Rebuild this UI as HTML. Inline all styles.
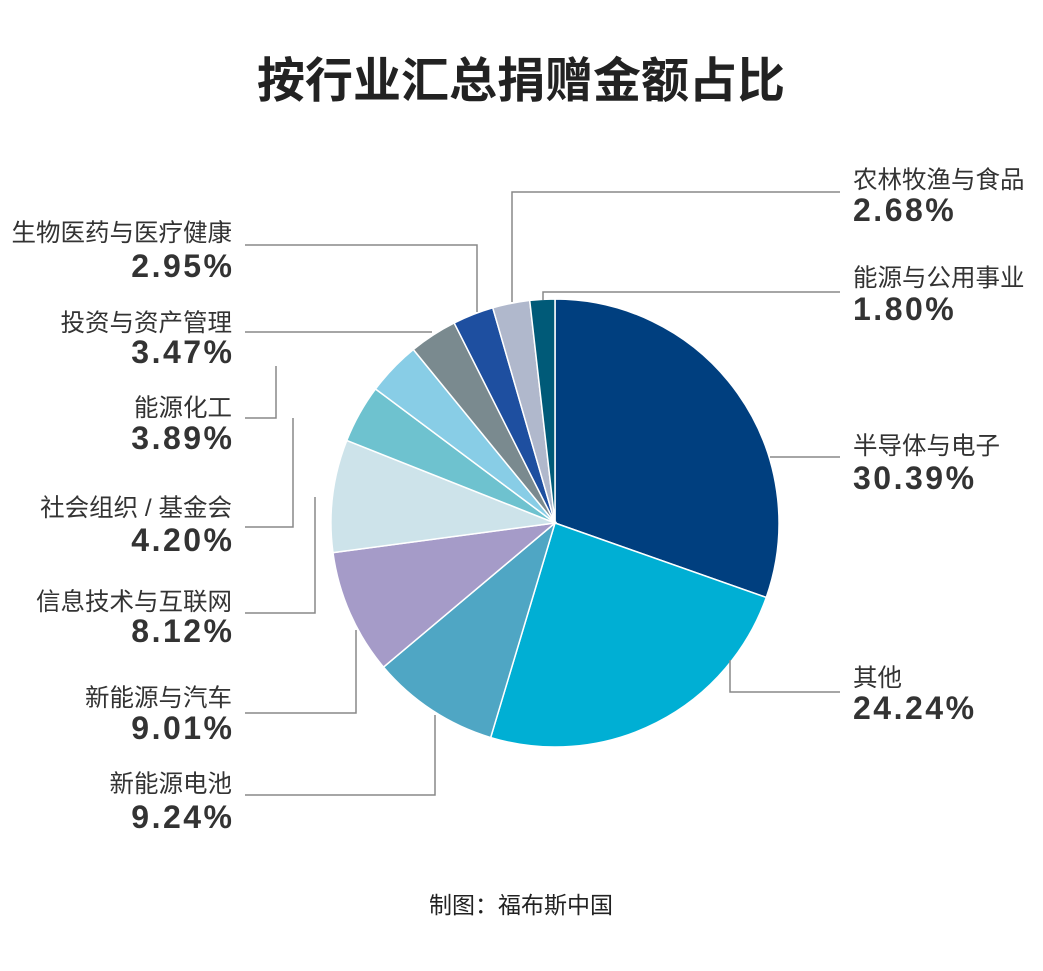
<!DOCTYPE html>
<html><head><meta charset="utf-8">
<style>
html,body{margin:0;padding:0;background:#fff;}
body{width:1043px;height:966px;overflow:hidden;}
text{font-family:"Liberation Sans","Noto Sans CJK SC",sans-serif;fill:#333;}
.n{font-size:24.5px;}
.p{font-size:32px;font-weight:bold;letter-spacing:2.5px;}
</style></head><body>
<svg id="s" width="1043" height="966" viewBox="0 0 1043 966" xmlns="http://www.w3.org/2000/svg">
<text x="521" y="97" text-anchor="middle" style="font-size:48px;font-weight:bold;fill:#222">按行业汇总捐赠金额占比</text>
<g id="pie"></g>
<g stroke="#888" stroke-width="1.5" fill="none">
<polyline points="770,457 840,457"/>
<polyline points="730,660 730,692 840,692"/>
<polyline points="435,715 435,795 245,795"/>
<polyline points="356,630 356,713 245,713"/>
<polyline points="315,497 315,613 245,613"/>
<polyline points="293,418 293,527 245,527"/>
<polyline points="276,366 276,418 245,418"/>
<polyline points="432,332 245,332"/>
<polyline points="245,245 477,245 477,312"/>
<polyline points="512,302 512,192 840,192"/>
<polyline points="543,300 543,292 840,292"/>
</g>
<g>
<text class="n" x="853" y="188">农林牧渔与食品</text><text class="p" x="853" y="221">2.68%</text>
<text class="n" x="853" y="286">能源与公用事业</text><text class="p" x="853" y="320">1.80%</text>
<text class="n" x="853" y="454">半导体与电子</text><text class="p" x="853" y="489">30.39%</text>
<text class="n" x="853" y="686">其他</text><text class="p" x="853" y="719">24.24%</text>
</g>
<g text-anchor="end">
<text class="n" x="232" y="241">生物医药与医疗健康</text><text class="p" x="234.5" y="277">2.95%</text>
<text class="n" x="232" y="331">投资与资产管理</text><text class="p" x="234.5" y="363">3.47%</text>
<text class="n" x="232" y="416">能源化工</text><text class="p" x="234.5" y="449">3.89%</text>
<text class="n" x="232" y="516">社会组织 / 基金会</text><text class="p" x="234.5" y="551">4.20%</text>
<text class="n" x="232" y="610">信息技术与互联网</text><text class="p" x="234.5" y="642">8.12%</text>
<text class="n" x="232" y="706">新能源与汽车</text><text class="p" x="234.5" y="739">9.01%</text>
<text class="n" x="232" y="792">新能源电池</text><text class="p" x="234.5" y="828">9.24%</text>
</g>
<text x="521" y="913" text-anchor="middle" style="font-size:23px;fill:#222">制图：福布斯中国</text>
</svg>
<script>
var d=[[30.39,"#003f7f"],[24.24,"#00afd4"],[9.24,"#4fa6c4"],[9.01,"#a59bc8"],[8.12,"#cde3ea"],[4.20,"#6ec2cf"],[3.89,"#88cde6"],[3.47,"#7a8a8f"],[2.95,"#1e4fa0"],[2.68,"#b0b8cc"],[1.80,"#005a78"]];
var cx=555,cy=523,r=224,a=0,h="";
d.forEach(function(e){var a2=a+e[0]/99.99*2*Math.PI;
var x1=cx+r*Math.sin(a),y1=cy-r*Math.cos(a),x2=cx+r*Math.sin(a2),y2=cy-r*Math.cos(a2);
h+='<path d="M'+cx+','+cy+'L'+x1+','+y1+'A'+r+','+r+' 0 '+((a2-a)>Math.PI?1:0)+' 1 '+x2+','+y2+'Z" fill="'+e[1]+'" stroke="#fff" stroke-width="1.5"/>';a=a2;});
document.getElementById("pie").innerHTML=h;
</script>
</body></html>
